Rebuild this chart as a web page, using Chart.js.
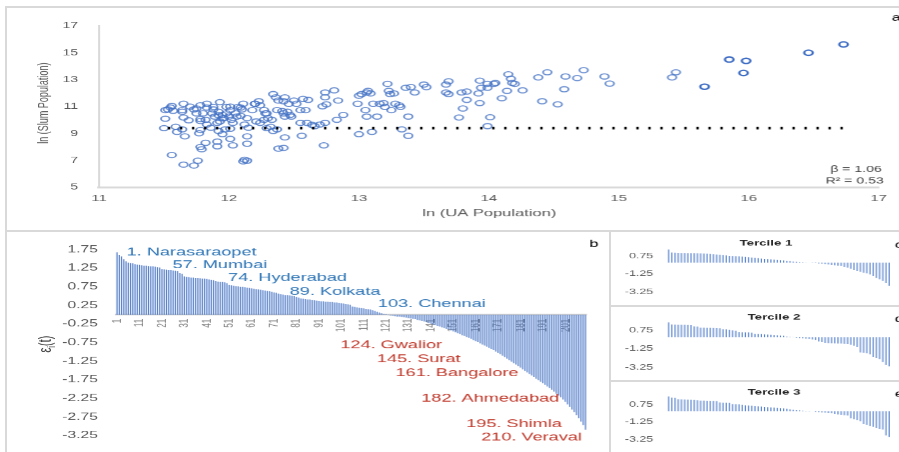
<!DOCTYPE html>
<html>
<head>
<meta charset="utf-8">
<script src="https://cdn.jsdelivr.net/npm/chart.js@4.4.1/dist/chart.umd.min.js"></script>
<style>
  html, body { margin: 0; padding: 0; background: #fff; }
  body { position: relative; width: 899px; height: 452px; overflow: hidden; }
  .rule { position: absolute; background: #d9d9d9; }
  .panel { position: absolute; }
  .panel > .inner { position: absolute; left: 0; top: 0; transform-origin: 0 0; }
</style>
</head>
<body>
<div class="rule" style="left:5px;top:6px;width:894px;height:2px"></div>
<div class="rule" style="left:5px;top:6px;width:2px;height:446px"></div>
<div class="rule" style="left:5px;top:230px;width:894px;height:2px"></div>
<div class="rule" style="left:609px;top:231px;width:2px;height:221px"></div>
<div class="rule" style="left:609px;top:305px;width:290px;height:2px"></div>
<div class="rule" style="left:609px;top:380px;width:290px;height:2px"></div>
<script>
// ---------- data ----------
// (a) urban agglomerations: ln(UA population) vs ln(slum population)
const uaPop = [
  11.51, 11.53, 11.56, 11.57, 11.51, 11.50, 11.59, 11.60, 11.64, 11.56,
  11.65, 11.73, 11.76, 11.65, 11.64, 11.65, 11.69, 11.66, 11.64, 11.73,
  11.75, 11.78, 11.75, 11.78, 11.78, 11.77, 11.83, 11.80, 11.82, 11.83,
  11.86, 11.78, 11.79, 11.82, 11.91, 11.91, 11.88, 11.87, 11.89, 11.92,
  11.93, 11.95, 11.96, 11.93, 11.91, 11.92, 11.95, 11.97, 11.98, 12.01,
  12.00, 12.02, 12.03, 12.01, 12.05, 12.06, 12.07, 12.01, 12.03, 12.11,
  12.10, 12.09, 12.14, 12.12, 12.15, 12.14, 12.14, 12.12, 12.14, 12.11,
  12.18, 12.20, 12.23, 12.24, 12.27, 12.29, 12.21, 12.24, 12.27, 12.30,
  12.33, 12.32, 12.34, 12.36, 12.38, 12.42, 12.43, 12.46, 12.37, 12.41,
  12.45, 12.47, 12.43, 12.48, 12.38, 12.42, 12.43, 12.34, 12.29, 12.37,
  12.50, 12.52, 12.55, 12.57, 12.61, 12.59, 12.55, 12.60, 12.64, 12.70,
  12.66, 12.56, 12.73, 12.74, 12.74, 12.72, 12.75, 12.81, 12.84, 12.74,
  12.83, 12.88, 12.99, 13.00, 13.02, 13.06, 13.07, 13.09, 13.11, 13.05,
  13.06, 13.14, 13.00, 13.10, 13.16, 13.19, 13.22, 13.23, 13.24, 13.27,
  13.20, 13.25, 13.28, 13.31, 13.32, 13.33, 13.38, 13.38, 13.36, 13.40,
  13.43, 13.50, 13.52, 13.67, 13.69, 13.67, 13.69, 13.79, 13.83, 13.92,
  13.93, 13.94, 13.99, 13.99, 14.04, 14.05, 14.15, 14.17, 14.18, 14.20,
  14.26, 14.14, 14.10, 13.83, 13.80, 13.93, 13.77, 14.01, 13.99, 14.38,
  14.45, 14.41, 14.53, 14.59, 14.68, 14.58, 14.73, 14.89, 14.93, 15.41,
  15.44, 15.66, 15.85, 15.98, 15.96, 16.46, 16.73, 11.92, 11.95, 11.98,
  11.88, 11.83, 12.01, 11.55, 11.70, 12.09, 12.20, 12.28, 12.42, 11.78
];
const slumPop = [
  10.74, 10.79, 11.05, 10.69, 10.10, 9.40, 9.50, 9.12, 9.31, 7.40,
  6.69, 6.62, 6.98, 11.21, 10.74, 10.19, 9.98, 8.79, 10.62, 10.79,
  10.86, 11.10, 10.50, 10.07, 9.26, 9.02, 11.21, 10.50, 10.02, 9.67,
  9.43, 8.00, 7.83, 8.31, 8.40, 8.05, 10.98, 10.50, 10.26, 10.62,
  11.33, 10.38, 10.14, 9.90, 9.79, 9.19, 8.95, 9.31, 10.98, 10.74,
  10.26, 10.02, 9.79, 9.36, 10.50, 10.26, 10.98, 8.60, 8.12, 11.21,
  10.79, 10.31, 10.14, 9.67, 9.43, 8.79, 8.24, 7.05, 6.98, 6.93,
  10.74, 11.21, 11.40, 11.10, 10.74, 10.50, 9.90, 9.79, 10.02, 10.14,
  10.02, 9.50, 11.93, 11.69, 11.45, 11.40, 11.69, 11.21, 10.74, 10.67,
  10.62, 10.38, 10.26, 10.26, 7.88, 7.93, 8.71, 9.19, 9.40, 9.31,
  11.45, 11.21, 10.74, 11.57, 11.50, 10.74, 9.79, 9.79, 9.64, 9.67,
  9.55, 8.83, 8.12, 12.05, 11.69, 11.02, 11.17, 12.21, 11.45, 9.79,
  10.02, 10.38, 11.21, 11.81, 11.93, 12.05, 12.17, 11.98, 11.21, 10.74,
  10.26, 10.26, 8.95, 9.12, 11.21, 11.26, 12.69, 12.17, 11.93, 11.98,
  10.98, 10.74, 11.21, 11.10, 10.98, 9.31, 10.26, 8.83, 12.40, 12.45,
  12.05, 12.64, 12.45, 12.64, 12.88, 12.05, 11.93, 12.05, 12.12, 11.98,
  12.93, 12.40, 12.69, 12.40, 12.69, 12.76, 13.40, 13.07, 12.76, 12.69,
  12.21, 12.17, 11.62, 11.50, 10.86, 11.26, 10.19, 10.21, 9.55, 13.17,
  13.55, 11.40, 11.17, 13.24, 13.12, 12.29, 13.71, 13.24, 12.71, 13.17,
  13.55, 12.48, 14.50, 14.40, 13.50, 15.00, 15.62, 10.36, 10.14, 10.50,
  10.79, 10.93, 11.00, 10.93, 11.00, 10.93, 11.21, 10.50, 10.50, 9.93
];
const refLineX = [11.53, 16.73];
const refLineY = [9.4, 9.4];
const scatterXTicks = [11, 12, 13, 14, 15, 16, 17];
const scatterYTicks = [5, 7, 9, 11, 13, 15, 17];
const fitBeta = '1.06';
const fitR2 = '0.53';

// (b) ranked residuals of all 210 cities
const residuals = [
  1.68, 1.61, 1.57, 1.49, 1.44, 1.40, 1.39, 1.38, 1.36, 1.35,
  1.34, 1.33, 1.32, 1.32, 1.31, 1.30, 1.30, 1.29, 1.28, 1.27,
  1.23, 1.22, 1.21, 1.20, 1.20, 1.19, 1.18, 1.17, 1.12, 1.10,
  1.03, 1.02, 1.01, 1.00, 1.00, 0.99, 0.99, 0.98, 0.97, 0.97,
  0.96, 0.95, 0.94, 0.93, 0.91, 0.89, 0.88, 0.88, 0.87, 0.85,
  0.80, 0.79, 0.78, 0.77, 0.76, 0.75, 0.75, 0.74, 0.73, 0.72,
  0.71, 0.70, 0.69, 0.68, 0.67, 0.66, 0.65, 0.64, 0.63, 0.62,
  0.60, 0.59, 0.57, 0.55, 0.54, 0.53, 0.53, 0.52, 0.51, 0.50,
  0.48, 0.46, 0.44, 0.43, 0.42, 0.41, 0.41, 0.40, 0.39, 0.38,
  0.37, 0.36, 0.36, 0.35, 0.35, 0.34, 0.34, 0.33, 0.33, 0.32,
  0.31, 0.30, 0.29, 0.28, 0.27, 0.22, 0.21, 0.20, 0.19, 0.18,
  0.17, 0.16, 0.15, 0.14, 0.12, 0.10, 0.08, 0.06, 0.04, 0.02,
  0.01, -0.01, -0.02, -0.03, -0.04, -0.05, -0.05, -0.06, -0.07, -0.08,
  -0.09, -0.10, -0.11, -0.12, -0.14, -0.15, -0.17, -0.18, -0.20, -0.22,
  -0.24, -0.26, -0.28, -0.30, -0.32, -0.34, -0.36, -0.38, -0.40, -0.42,
  -0.45, -0.47, -0.50, -0.52, -0.55, -0.57, -0.60, -0.62, -0.65, -0.68,
  -0.71, -0.74, -0.77, -0.80, -0.83, -0.86, -0.89, -0.92, -0.95, -0.99,
  -1.03, -1.06, -1.10, -1.14, -1.18, -1.22, -1.26, -1.30, -1.34, -1.38,
  -1.42, -1.47, -1.51, -1.55, -1.59, -1.63, -1.67, -1.72, -1.76, -1.80,
  -1.84, -1.88, -1.93, -1.97, -2.02, -2.07, -2.12, -2.17, -2.22, -2.28,
  -2.34, -2.41, -2.48, -2.55, -2.62, -2.70, -2.78, -2.87, -2.97, -3.09
];
const rankLabels = residuals.map((_, i) => String(i + 1));
const residualTicks = [1.75, 1.25, 0.75, 0.25, -0.25, -0.75, -1.25, -1.75, -2.25, -2.75, -3.25];
const cityRanks = [1, 57, 74, 89, 103, 124, 145, 161, 182, 195, 210];
const cityNames = ['Narasaraopet', 'Mumbai', 'Hyderabad', 'Kolkata', 'Chennai',
                   'Gwalior', 'Surat', 'Bangalore', 'Ahmedabad', 'Shimla', 'Veraval'];

// (c)-(e) ranked residuals within each population tercile
const tercile1 = [
  1.46, 1.12, 1.10, 1.09, 1.08, 1.07, 1.06, 1.05, 1.05, 1.04,
  1.02, 1.00, 0.99, 0.97, 0.94, 0.90, 0.87, 0.84, 0.80, 0.76,
  0.74, 0.72, 0.70, 0.67, 0.64, 0.61, 0.58, 0.55, 0.50, 0.46,
  0.43, 0.40, 0.37, 0.34, 0.31, 0.28, 0.25, 0.21, 0.17, 0.13,
  0.10, 0.07, 0.05, 0.03, 0.01, -0.02, -0.04, -0.07, -0.10, -0.15,
  -0.19, -0.24, -0.28, -0.32, -0.36, -0.45, -0.55, -0.66, -0.78, -0.91,
  -1.00, -1.10, -1.17, -1.28, -1.45, -1.66, -1.82, -1.98, -2.25, -2.54
];
const tercile2 = [
  1.60, 1.36, 1.35, 1.34, 1.33, 1.33, 1.32, 1.30, 1.16, 1.14,
  1.03, 1.02, 1.01, 1.00, 0.99, 0.98, 0.96, 0.86, 0.84, 0.80,
  0.74, 0.69, 0.56, 0.54, 0.52, 0.51, 0.49, 0.36, 0.35, 0.33,
  0.31, 0.29, 0.27, 0.24, 0.21, 0.18, 0.15, 0.07, 0.04, 0.01,
  -0.05, -0.08, -0.11, -0.15, -0.19, -0.24, -0.28, -0.45, -0.52, -0.60,
  -0.63, -0.65, -0.66, -0.67, -0.68, -0.70, -0.72, -0.80, -0.90, -1.05,
  -1.62, -1.67, -1.72, -1.83, -2.10, -2.22, -2.35, -2.65, -2.95, -3.10
];
const tercile3 = [
  1.69, 1.57, 1.55, 1.38, 1.36, 1.34, 1.32, 1.30, 1.28, 1.26,
  1.22, 1.21, 1.20, 1.19, 1.18, 1.17, 1.00, 0.98, 0.97, 0.95,
  0.82, 0.80, 0.78, 0.72, 0.68, 0.66, 0.64, 0.58, 0.56, 0.53,
  0.50, 0.47, 0.44, 0.41, 0.38, 0.35, 0.33, 0.30, 0.20, 0.17,
  0.14, 0.10, 0.04, 0.02, 0.01, -0.01, -0.08, -0.11, -0.14, -0.17,
  -0.20, -0.22, -0.33, -0.37, -0.41, -0.45, -0.49, -0.80, -0.92, -1.03,
  -1.14, -1.46, -1.57, -1.68, -1.79, -1.95, -2.02, -2.10, -2.76, -2.93
];
const tercileTicks = [0.75, -1.25, -3.25];

// ---------- page setup ----------
// Each chart is laid out on a narrower canvas and widened by STRETCH,
// which gives the wide lettering and oval markers of the figure.
const STRETCH = 1.65;
const FONT = '"Liberation Sans", Arial, sans-serif';
Chart.defaults.font.family = FONT;
Chart.defaults.color = '#595959';

function mount(box) {
  const outer = document.createElement('div');
  outer.className = 'panel';
  Object.assign(outer.style, { left: box.left + 'px', top: box.top + 'px',
    width: box.width + 'px', height: box.height + 'px' });
  const inner = document.createElement('div');
  inner.className = 'inner';
  Object.assign(inner.style, { width: (box.width / STRETCH) + 'px', height: box.height + 'px',
    transform: 'scaleX(' + STRETCH + ')' });
  const cv = document.createElement('canvas');
  inner.appendChild(cv);
  outer.appendChild(inner);
  document.body.appendChild(outer);
  return cv;
}

// free text drawn on top of a chart; x in page pixels relative to the panel
function textLayer(items) {
  return {
    id: 'textLayer',
    afterDraw(chart) {
      const ctx = chart.ctx;
      items.forEach(t => {
        ctx.save();
        ctx.translate(t.x / STRETCH, t.y);
        if (t.rotate) ctx.rotate(t.rotate);
        if (t.draw) { t.draw(ctx); ctx.restore(); return; }
        ctx.font = (t.weight || 'normal') + ' ' + t.size + 'px ' + FONT;
        ctx.fillStyle = t.color || '#595959';
        ctx.textAlign = t.align || 'left';
        ctx.textBaseline = 'middle';
        ctx.fillText(t.text, 0, 0);
        ctx.restore();
      });
    }
  };
}

function frame(box, area) {
  return {
    top: area.top - box.top,
    bottom: box.top + box.height - area.bottom,
    right: (box.left + box.width - area.right) / STRETCH,
    yWidth: (area.left - box.left) / STRETCH
  };
}

const base = {
  responsive: true,
  maintainAspectRatio: false,
  animation: false,
  devicePixelRatio: STRETCH,
  events: [],
};

// ---------- (a) scatter ----------
(function () {
  const box = { left: 7, top: 8, width: 892, height: 221 };
  const area = { left: 99, right: 878, top: 19, bottom: 187 };
  const f = frame(box, area);
  const points = uaPop.map((x, i) => ({ x, y: slumPop[i] }));
  const big = c => c.raw && c.raw.x > 15.5;
  new Chart(mount(box), {
    type: 'scatter',
    data: {
      datasets: [
        {
          data: refLineX.map((x, i) => ({ x, y: refLineY[i] })),
          showLine: true, pointRadius: 0, borderColor: '#000', borderWidth: 2.6,
          borderDash: [2.4 / STRETCH, 9.6 / STRETCH], borderCapStyle: 'butt', fill: false
        },
        {
          data: points,
          pointStyle: 'circle', pointRadius: 2.6,
          pointBackgroundColor: 'rgba(0,0,0,0)',
          pointBorderColor: c => big(c) ? '#3d6cc3' : 'rgba(68,114,196,0.8)',
          pointBorderWidth: c => big(c) ? 1.4 : 1.1
        }
      ]
    },
    options: Object.assign({}, base, {
      layout: { padding: { left: 0, top: f.top, right: f.right, bottom: 0 } },
      plugins: { legend: { display: false }, tooltip: { enabled: false } },
      scales: {
        x: {
          min: 11, max: 17,
          afterBuildTicks: s => { s.ticks = scatterXTicks.map(v => ({ value: v })); },
          afterFit: s => { s.height = f.bottom; },
          grid: { display: false, drawTicks: false },
          border: { color: '#d9d9d9', width: 2 },
          ticks: { padding: 6, font: { size: 9 }, color: '#595959' }
        },
        y: {
          min: 5, max: 17,
          afterBuildTicks: s => { s.ticks = scatterYTicks.map(v => ({ value: v })); },
          afterFit: s => { s.width = f.yWidth; },
          grid: { display: false, drawTicks: false },
          border: { color: '#d9d9d9', width: 1.2 },
          ticks: { padding: 21 / STRETCH, font: { size: 8.5 }, color: '#595959' }
        }
      }
    }),
    plugins: [textLayer([
      { text: 'ln (Slum Population)', x: 37, y: 95, size: 9, align: 'center', rotate: -Math.PI / 2 },
      { text: 'ln (UA Population)', x: 482, y: 205, size: 10, align: 'center' },
      { text: 'β = ' + fitBeta, x: 874, y: 161, size: 8.5, align: 'right', color: '#404040' },
      { text: 'R² = ' + fitR2, x: 876, y: 173, size: 8.5, align: 'right', color: '#404040' },
      { text: 'a', x: 884, y: 10, size: 10, color: '#000' }
    ])]
  });
})();

// ---------- (b) ranked residuals ----------
(function () {
  const box = { left: 7, top: 233, width: 598, height: 219 };
  const area = { left: 116, right: 587.3, top: 244, bottom: 444 };
  const f = frame(box, area);
  const notePos = [
    [119.7, 19.3], [165.7, 32], [221.3, 44.7], [283, 58.5], [371.3, 71],
    [333.7, 112], [370.3, 126], [389, 139.7], [414.7, 165.3], [459.7, 191], [474.7, 204.3]
  ];
  const notes = cityRanks.map((r, i) => ({
    text: r + '. ' + cityNames[i],
    x: notePos[i][0], y: notePos[i][1], size: 11,
    color: residuals[r - 1] >= 0 ? '#2e75b6' : '#c0392b'
  }));
  notes.push({ text: 'b', x: 583, y: 11, size: 10, color: '#000' });
  notes.push({
    x: 37, y: 111, rotate: -Math.PI / 2,
    draw(ctx) {
      ctx.fillStyle = '#404040';
      ctx.textBaseline = 'alphabetic';
      ctx.font = '11px ' + FONT;
      const w1 = ctx.measureText('ε').width;
      ctx.font = '7px ' + FONT;
      const w2 = ctx.measureText('i').width;
      ctx.font = '11px ' + FONT;
      const w3 = ctx.measureText('(t)').width;
      let x = -(w1 + w2 + w3) / 2;
      ctx.fillText('ε', x, 4); x += w1;
      ctx.font = '7px ' + FONT;
      ctx.fillText('i', x, 6.5); x += w2;
      ctx.font = '11px ' + FONT;
      ctx.fillText('(t)', x, 4);
    }
  });
  new Chart(mount(box), {
    type: 'bar',
    data: {
      labels: rankLabels,
      datasets: [{ data: residuals, backgroundColor: '#4472c4', barPercentage: 0.5, categoryPercentage: 1 }]
    },
    options: Object.assign({}, base, {
      layout: { padding: { left: 0, top: f.top, right: f.right, bottom: f.bottom } },
      plugins: { legend: { display: false }, tooltip: { enabled: false } },
      scales: {
        x: {
          position: { y: 0 },
          grid: { display: false, drawTicks: false },
          border: { color: '#d0d0d0', width: 1.5 },
          ticks: {
            autoSkip: false, minRotation: 90, maxRotation: 90, padding: 4,
            font: { size: 8 }, color: '#7f7f7f',
            callback: (v, i) => (i % 10 === 0 ? rankLabels[i] : null)
          }
        },
        y: {
          min: -3.25, max: 1.75,
          afterBuildTicks: s => { s.ticks = residualTicks.map(v => ({ value: v })); },
          afterFit: s => { s.width = f.yWidth; },
          grid: { display: false, drawTicks: false },
          border: { display: false },
          ticks: { padding: 18 / STRETCH, font: { size: 9.5 }, color: '#595959', callback: v => v.toFixed(2) }
        }
      }
    }),
    plugins: [textLayer(notes)]
  });
})();

// ---------- (c)-(e) terciles ----------
function tercileChart(values, title, letter, box, area, titleX) {
  const f = frame(box, area);
  new Chart(mount(box), {
    type: 'bar',
    data: {
      labels: values.map((_, i) => String(i + 1)),
      datasets: [{ data: values, backgroundColor: '#4a78c8', barPercentage: 0.34, categoryPercentage: 1 }]
    },
    options: Object.assign({}, base, {
      layout: { padding: { left: 0, top: f.top, right: f.right, bottom: f.bottom } },
      plugins: { legend: { display: false }, tooltip: { enabled: false } },
      scales: {
        x: { display: false },
        y: {
          min: -3.25, max: 1.75,
          afterBuildTicks: s => { s.ticks = tercileTicks.map(v => ({ value: v })); },
          afterFit: s => { s.width = f.yWidth; },
          grid: { display: false, drawTicks: false },
          border: { display: false },
          ticks: { padding: 13.7 / STRETCH, font: { size: 7.5 }, color: '#595959', callback: v => v.toFixed(2) }
        }
      }
    }),
    plugins: [textLayer([
      { text: title, x: titleX, y: 9.3, size: 8, weight: 'bold', align: 'center', color: '#262626' },
      { text: letter, x: 282, y: 11, size: 10, color: '#000' }
    ])]
  });
}
tercileChart(tercile1, 'Tercile 1', 'c',
  { left: 611, top: 234, width: 288, height: 71 }, { left: 666.7, right: 889.1, top: 243.75, bottom: 295 }, 154);
tercileChart(tercile2, 'Tercile 2', 'd',
  { left: 611, top: 308, width: 288, height: 72 }, { left: 666.7, right: 889.1, top: 319, bottom: 369 }, 162);
tercileChart(tercile3, 'Tercile 3', 'e',
  { left: 611, top: 383, width: 288, height: 69 }, { left: 666.7, right: 889.1, top: 393.2, bottom: 444 }, 162);
</script>
</body>
</html>
